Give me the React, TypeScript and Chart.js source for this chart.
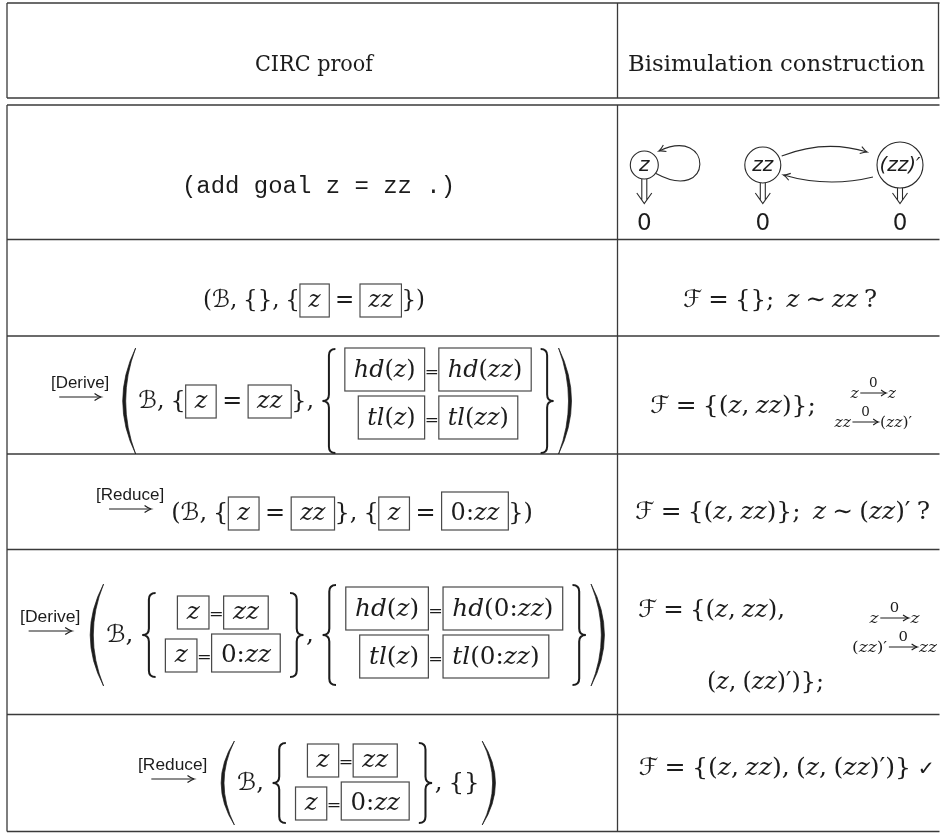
import React, { useEffect, useRef } from "react";
import { Chart, registerables } from "chart.js";

Chart.register(...registerables);

// ---------------- data ----------------
const columnHeaders = ["CIRC proof", "Bisimulation construction"];
const goalCommand = "(add goal z = zz .)";
const streamStates = ["z", "zz", "(zz)′"];
const stateOutputs = ["0", "0", "0"];
const ruleNames = ["[Derive]", "[Reduce]", "[Derive]", "[Reduce]"];
const specName = "ℬ";
const goalPair = ["z", "zz"];
const reducedPair = ["z", "0:zz"];
const derivedGoalsA = [["hd(z)", "hd(zz)"], ["tl(z)", "tl(zz)"]];
const derivedGoalsB = [["hd(z)", "hd(0:zz)"], ["tl(z)", "tl(0:zz)"]];
const bisimSteps = [
  "ℱ = {};  z ∼ zz ?",
  "ℱ = {(z, zz)};",
  "ℱ = {(z, zz)};  z ∼ (zz)′ ?",
  "ℱ = {(z, zz),",
  "(z, (zz)′)};",
  "ℱ = {(z, zz), (z, (zz)′)} ✓",
];
const transitionsA = [["z", "0", "z"], ["zz", "0", "(zz)′"]];
const transitionsB = [["z", "0", "z"], ["(zz)′", "0", "zz"]];

// ---------------- layout / style ----------------
const CW = 940;
const CH = 834;
const COL_X = [7, 617.5, 938.5];
const RULE_TOP = 3;
const RULE_HEAD = [98, 105];
const RULE_ROWS = [239.5, 336, 454, 549.5, 714.5];
const RULE_BOTTOM = 831.5;
const NODE_X = [644.3, 762.8, 900];
const NODE_Y = 165;
const NODE_R = [14, 18, 23];
const INK = "#1c1c1c";
const RULE_INK = "#3a3a3a";
const BOX_INK = "#4a4a4a";
const SERIF = "'DejaVu Serif', 'DejaVu Sans', serif";
const MS = 24;
const PX = 9;
const PY = 10;
const LABEL_FONT = "17px 'Liberation Sans', Arial, sans-serif";

// ---------------- mini math layout ----------------
type It = any;
const T = (s: string, font: string): It => ({ k: "t", s, font });
const sp = (w: number): It => ({ k: "sp", w });
function M(str: string, size = MS): It[] {
  const out: It[] = [];
  let buf = "";
  let cur = "";
  const flush = () => {
    if (buf) out.push(T(buf, cur));
    buf = "";
  };
  for (const ch of Array.from(str)) {
    if (ch === " ") {
      flush();
      out.push(sp(size * 0.25));
      continue;
    }
    let f: string;
    if (/[a-z]/i.test(ch)) f = `italic ${size}px ${SERIF}`;
    else if (ch === "✓") f = `${Math.round(size * 0.85)}px 'DejaVu Sans'`;
    else f = `${size}px ${SERIF}`;
    if (f !== cur) {
      flush();
      cur = f;
    }
    buf += ch;
  }
  flush();
  return out;
}
const box = (s: string): It => ({ k: "box", c: M(s) });
const inlineEq = (p: string[]): It[] => [box(p[0]), ...M(" = "), box(p[1])];
const tightEq = (p: string[]): It[] => [box(p[0]), T("=", `17px ${SERIF}`), box(p[1])];
const stack = (rows: It[][], shift: number): It => ({ k: "stack", rows, gap: 5, shift, pad: 7 });
const dl = (ch: string, h: number): It => ({ k: "dl", ch, h, w: 18 });
const arr = (label: string): It => ({ k: "arr", label, len: 42 });
const sstack = (tr: string[][], offs: number[]): It => ({
  k: "sstack",
  offs,
  rows: tr.map(([a, l, b]) => [...M(a, 15), { k: "sarr", label: l, len: 28 }, ...M(b, 15)]),
});

function seqW(ctx: CanvasRenderingContext2D, items: It[]): number {
  return items.reduce((s, it) => s + wOf(ctx, it), 0);
}
function wOf(ctx: CanvasRenderingContext2D, it: It): number {
  switch (it.k) {
    case "t":
      ctx.font = it.font;
      return ctx.measureText(it.s).width;
    case "sp":
      return it.w;
    case "box":
      return seqW(ctx, it.c) + 2 * PX;
    case "stack":
      return Math.max(...it.rows.map((r: It[]) => seqW(ctx, r))) + 2 * it.pad;
    case "sstack":
      return Math.max(...it.rows.map((r: It[]) => seqW(ctx, r)));
    case "dl":
      return it.w;
    case "arr": {
      ctx.font = LABEL_FONT;
      return Math.max(ctx.measureText(it.label).width, it.len) + 6;
    }
    case "sarr":
      return it.len;
  }
  return 0;
}
function seqExt(ctx: CanvasRenderingContext2D, items: It[]): [number, number] {
  let a = 0;
  let d = 0;
  for (const it of items) {
    if (it.k === "t") {
      ctx.font = it.font;
      const m = ctx.measureText(it.s);
      a = Math.max(a, m.actualBoundingBoxAscent);
      d = Math.max(d, m.actualBoundingBoxDescent);
    } else if (it.k === "box") {
      const [ca, cd] = seqExt(ctx, it.c);
      a = Math.max(a, ca + PY);
      d = Math.max(d, Math.max(cd, 0) + PY);
    }
  }
  return [a, Math.max(d, 0)];
}

function arrowHead(ctx: CanvasRenderingContext2D, x: number, y: number, ang: number, L = 6.5, Wd = 3.6) {
  const c = Math.cos(ang);
  const s = Math.sin(ang);
  const bx = x - c * L;
  const by = y - s * L;
  const nx = -s;
  const ny = c;
  ctx.beginPath();
  ctx.moveTo(bx + nx * Wd, by + ny * Wd);
  ctx.quadraticCurveTo(x - c * L * 0.35 + nx * Wd * 0.15, y - s * L * 0.35 + ny * Wd * 0.15, x, y);
  ctx.quadraticCurveTo(x - c * L * 0.35 - nx * Wd * 0.15, y - s * L * 0.35 - ny * Wd * 0.15, bx - nx * Wd, by - ny * Wd);
  ctx.stroke();
}

function drawDelim(ctx: CanvasRenderingContext2D, ch: string, x: number, cy: number, w: number, h: number) {
  const top = cy - h / 2;
  const bot = cy + h / 2;
  ctx.save();
  if (ch === ")" || ch === "}") {
    ctx.translate(x + w, 0);
    ctx.scale(-1, 1);
  } else {
    ctx.translate(x, 0);
  }
  if (ch === "(" || ch === ")") {
    const x1 = w - 2.5;
    const x0 = 2.5;
    const th = Math.min(3, h / 30);
    ctx.beginPath();
    ctx.moveTo(x1, top);
    ctx.quadraticCurveTo(2 * x0 - x1, cy, x1, bot);
    ctx.quadraticCurveTo(2 * (x0 + th) - x1, cy, x1, top);
    ctx.closePath();
    ctx.fill();
    ctx.lineWidth = 0.7;
    ctx.stroke();
  } else {
    const xl = 2.5;
    const xr = w - 2.5;
    const xm = (xl + xr) / 2;
    const r = Math.min((xr - xl) / 2, h / 8);
    ctx.lineWidth = 2;
    ctx.beginPath();
    ctx.moveTo(xr, top);
    ctx.quadraticCurveTo(xm, top, xm, top + r);
    ctx.lineTo(xm, cy - r);
    ctx.quadraticCurveTo(xm, cy, xl, cy);
    ctx.quadraticCurveTo(xm, cy, xm, cy + r);
    ctx.lineTo(xm, bot - r);
    ctx.quadraticCurveTo(xm, bot, xr, bot);
    ctx.stroke();
  }
  ctx.restore();
}

function drawSeq(ctx: CanvasRenderingContext2D, items: It[], x: number, base: number, axis: number) {
  for (const it of items) {
    const w = wOf(ctx, it);
    drawIt(ctx, it, x, base, axis, w);
    x += w;
  }
}

function drawIt(ctx: CanvasRenderingContext2D, it: It, x: number, base: number, axis: number, w: number) {
  switch (it.k) {
    case "t":
      ctx.font = it.font;
      ctx.fillText(it.s, x, base);
      break;
    case "box": {
      const [a, d] = seqExt(ctx, it.c);
      drawSeq(ctx, it.c, x + PX, base, axis);
      ctx.save();
      ctx.lineWidth = 1.2;
      ctx.strokeStyle = BOX_INK;
      ctx.strokeRect(x, base - a - PY, w, a + d + 2 * PY);
      ctx.restore();
      break;
    }
    case "stack": {
      const ms = it.rows.map((r: It[]) => {
        const [a, d] = seqExt(ctx, r);
        return { a, d, w: seqW(ctx, r) };
      });
      const total = ms.reduce((s: number, m: any) => s + m.a + m.d, 0) + it.gap * (it.rows.length - 1);
      let top = axis + it.shift - total / 2;
      it.rows.forEach((r: It[], i: number) => {
        const m = ms[i];
        const rb = top + m.a;
        drawSeq(ctx, r, x + (w - m.w) / 2, rb, rb - 7);
        top += m.a + m.d + it.gap;
      });
      break;
    }
    case "sstack": {
      it.rows.forEach((r: It[], i: number) => {
        const rw = seqW(ctx, r);
        const rb = base + it.offs[i];
        drawSeq(ctx, r, x + (w - rw) / 2, rb, rb - 5);
      });
      break;
    }
    case "dl":
      drawDelim(ctx, it.ch, x, axis, w, it.h);
      break;
    case "arr": {
      const cx = x + w / 2;
      const ay = axis - 4;
      ctx.font = LABEL_FONT;
      ctx.textAlign = "center";
      ctx.fillText(it.label, cx, ay - 9);
      ctx.textAlign = "left";
      ctx.save();
      ctx.lineWidth = 1.2;
      ctx.beginPath();
      ctx.moveTo(cx - it.len / 2, ay);
      ctx.lineTo(cx + it.len / 2 - 0.5, ay);
      ctx.stroke();
      arrowHead(ctx, cx + it.len / 2, ay, 0);
      ctx.restore();
      break;
    }
    case "sarr": {
      const ay = base - 5;
      ctx.save();
      ctx.lineWidth = 1;
      ctx.beginPath();
      ctx.moveTo(x + 1.5, ay);
      ctx.lineTo(x + w - 2, ay);
      ctx.stroke();
      arrowHead(ctx, x + w - 1.5, ay, 0, 5, 3);
      ctx.font = `13px ${SERIF}`;
      ctx.textAlign = "center";
      ctx.fillText(it.label, x + w / 2, ay - 6);
      ctx.textAlign = "left";
      ctx.restore();
      break;
    }
  }
}

function drawFit(ctx: CanvasRenderingContext2D, items: It[], left: number, right: number, base: number) {
  const w = seqW(ctx, items);
  let sx = (right - left) / w;
  sx = Math.max(0.82, Math.min(1.2, sx));
  const cx = (left + right) / 2;
  ctx.save();
  ctx.translate(cx - (w * sx) / 2, 0);
  ctx.scale(sx, 1);
  drawSeq(ctx, items, 0, base, base - 7);
  ctx.restore();
}

// ---------------- row contents ----------------
const leftRows = [
  { items: [...M(`(${specName}, {}, {`), ...inlineEq(goalPair), ...M("})")], l: 203, r: 425, b: 307 },
  {
    items: [
      arr(ruleNames[0]), sp(8), dl("(", 106), ...M(`${specName}, {`), ...inlineEq(goalPair), ...M("}, "),
      dl("{", 104), stack(derivedGoalsA.map(tightEq), -7.5), dl("}", 104), dl(")", 106),
    ],
    l: 48, r: 574, b: 408,
  },
  {
    items: [
      arr(ruleNames[1]), sp(4), ...M(`(${specName}, {`), ...inlineEq(goalPair), ...M("}, {"),
      ...inlineEq(reducedPair), ...M("})"),
    ],
    l: 93, r: 533, b: 520,
  },
  {
    items: [
      arr(ruleNames[2]), sp(4), dl("(", 102), ...M(`${specName}, `), dl("{", 84),
      stack([goalPair, reducedPair].map(tightEq), -1), dl("}", 84), ...M(", "), dl("{", 100),
      stack(derivedGoalsB.map(tightEq), -2.5), dl("}", 100), dl(")", 102),
    ],
    l: 17, r: 607, b: 642,
  },
  {
    items: [
      arr(ruleNames[3]), sp(8), dl("(", 84), ...M(`${specName}, `), dl("{", 80),
      stack([goalPair, reducedPair].map(tightEq), -1), dl("}", 80), ...M(", {}"), dl(")", 84),
    ],
    l: 135, r: 498, b: 790,
  },
];

const rightRows = [
  { items: M(bisimSteps[0]), l: 683, r: 877, b: 307 },
  { items: [...M(bisimSteps[1]), sp(18), sstack(transitionsA, [-15, 14])], l: 650, r: 912, b: 413 },
  { items: M(bisimSteps[2]), l: 635, r: 930, b: 519 },
  { items: M(bisimSteps[3]), l: 638, r: 785, b: 617 },
  { items: M(bisimSteps[4]), l: 707, r: 824, b: 689 },
  { items: [sstack(transitionsB, [6, 35])], l: 852, r: 937, b: 617 },
  { items: M(bisimSteps[5]), l: 638.5, r: 935, b: 775 },
];

// ---------------- chart datasets ----------------
const lineDs = (pts: { x: number; y: number }[]) => ({
  type: "scatter" as const,
  data: pts,
  showLine: true,
  borderColor: RULE_INK,
  borderWidth: 1.3,
  pointRadius: 0,
  fill: false,
  tension: 0,
});

function buildDatasets(): any[] {
  const ys = [RULE_TOP, ...RULE_HEAD, ...RULE_ROWS, RULE_BOTTOM];
  const h = ys.map((y) => lineDs([{ x: COL_X[0], y }, { x: 939.5, y }]));
  const v: any[] = [];
  COL_X.slice(0, 2).forEach((x) => {
    v.push(lineDs([{ x, y: RULE_TOP }, { x, y: RULE_HEAD[0] }]));
    v.push(lineDs([{ x, y: RULE_HEAD[1] }, { x, y: RULE_BOTTOM }]));
  });
  v.push(lineDs([{ x: COL_X[2], y: RULE_TOP }, { x: COL_X[2], y: RULE_HEAD[0] }]));
  const nodes = {
    type: "scatter" as const,
    data: NODE_X.map((x) => ({ x, y: NODE_Y })),
    pointRadius: NODE_R,
    pointBorderColor: "#2a2a2a",
    pointBackgroundColor: "rgba(0,0,0,0)",
    pointBorderWidth: 1.1,
    showLine: false,
  };
  return [...h, ...v, nodes];
}

const tablePlugin = {
  id: "tableContent",
  afterDatasetsDraw(chart: any) {
    const ctx: CanvasRenderingContext2D = chart.ctx;
    const X = (v: number) => chart.scales.x.getPixelForValue(v);
    const Y = (v: number) => chart.scales.y.getPixelForValue(v);
    ctx.save();
    ctx.fillStyle = INK;
    ctx.strokeStyle = INK;
    ctx.textBaseline = "alphabetic";
    ctx.textAlign = "left";

    // headers & goal command
    drawFit(ctx, [T(columnHeaders[0], `22px ${SERIF}`)], X(255), X(373), Y(70.5));
    drawFit(ctx, [T(columnHeaders[1], `22px ${SERIF}`)], X(628), X(925), Y(70.5));
    drawFit(ctx, [T(goalCommand, "23.5px 'Liberation Mono', 'DejaVu Sans Mono', monospace")], X(182), X(455), Y(193));

    // stream automaton
    ctx.lineWidth = 1.1;
    ctx.strokeStyle = "#2a2a2a";
    ctx.textAlign = "center";
    ctx.font = "italic 20px 'DejaVu Sans'";
    streamStates.forEach((s, i) => ctx.fillText(s, X(NODE_X[i]), Y(NODE_Y + 5.5)));
    ctx.font = "23px 'DejaVu Sans'";
    stateOutputs.forEach((s, i) => ctx.fillText(s, X(NODE_X[i]), Y(230)));
    ctx.textAlign = "left";
    NODE_X.forEach((x, i) => {
      const y0 = NODE_Y + NODE_R[i];
      const tip = 203.5;
      ctx.beginPath();
      ctx.moveTo(X(x - 2.5), Y(y0));
      ctx.lineTo(X(x - 2.5), Y(tip - 3.5));
      ctx.moveTo(X(x + 2.5), Y(y0));
      ctx.lineTo(X(x + 2.5), Y(tip - 3.5));
      ctx.moveTo(X(x - 7.5), Y(tip - 10.5));
      ctx.lineTo(X(x), Y(tip));
      ctx.lineTo(X(x + 7.5), Y(tip - 10.5));
      ctx.stroke();
    });
    // self loop on z
    ctx.beginPath();
    ctx.moveTo(X(656), Y(173.5));
    ctx.bezierCurveTo(X(714), Y(205), X(714), Y(125), X(659), Y(151));
    ctx.stroke();
    arrowHead(ctx, X(659), Y(151), Math.atan2(151 - 125, 659 - 714));
    // zz -> (zz)'
    ctx.beginPath();
    ctx.moveTo(X(781.7), Y(156));
    ctx.quadraticCurveTo(X(825), Y(139), X(867), Y(152));
    ctx.stroke();
    arrowHead(ctx, X(867), Y(152), Math.atan2(152 - 139, 867 - 825));
    // (zz)' -> zz
    ctx.beginPath();
    ctx.moveTo(X(873), Y(177));
    ctx.quadraticCurveTo(X(828), Y(188), X(783.5), Y(175));
    ctx.stroke();
    arrowHead(ctx, X(783.5), Y(175), Math.atan2(175 - 188, 783.5 - 828));

    // proof rows
    ctx.fillStyle = INK;
    ctx.strokeStyle = INK;
    [...leftRows, ...rightRows].forEach((row) => drawFit(ctx, row.items, X(row.l), X(row.r), Y(row.b)));
    ctx.restore();
  },
};

export default function App() {
  const ref = useRef<HTMLCanvasElement | null>(null);
  useEffect(() => {
    if (!ref.current) return;
    const chart = new Chart(ref.current, {
      type: "scatter",
      data: { datasets: buildDatasets() },
      options: {
        animation: false,
        responsive: false,
        maintainAspectRatio: false,
        devicePixelRatio: 1,
        events: [],
        layout: { padding: 0, autoPadding: false },
        scales: {
          x: { type: "linear", min: 0, max: CW, display: false },
          y: { type: "linear", min: 0, max: CH, reverse: true, display: false },
        },
        plugins: { legend: { display: false }, tooltip: { enabled: false } },
      },
      plugins: [tablePlugin],
    } as any);
    return () => chart.destroy();
  }, []);
  return (
    <div style={{ position: "absolute", left: 0, top: 0, width: CW, height: CH, background: "#fff" }}>
      <canvas ref={ref} width={CW} height={CH} style={{ display: "block" }} />
    </div>
  );
}
